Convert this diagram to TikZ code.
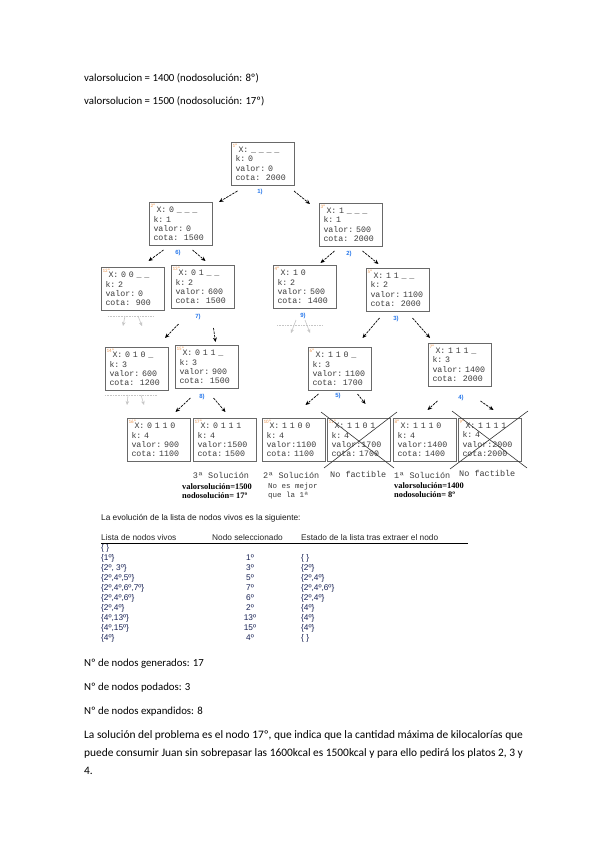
\documentclass[tikz,border=0pt]{standalone}
\usepackage{fontspec}
\setmainfont{Carlito}
\newfontfamily\mono{Liberation Mono}
\newfontfamily\tabla{Liberation Sans}
\newfontfamily\serifa{Liberation Serif}
\usepackage{xcolor}
\definecolor{azulPaso}{RGB}{40,120,235}
\definecolor{naranjaNum}{RGB}{235,150,80}
\definecolor{grisBorde}{RGB}{105,105,105}
\definecolor{grisTexto}{RGB}{60,60,60}
\definecolor{azulTabla}{RGB}{25,35,85}
\usetikzlibrary{arrows.meta}

\begin{document}
\begin{tikzpicture}[x=1pt, y=-1pt,
  estado/.style={rectangle, draw=grisBorde, line width=1pt, fill=white, anchor=north west,
                 minimum width=63pt, minimum height=43pt, inner xsep=4pt, inner ysep=1pt,
                 text width=55pt, align=left, text=grisTexto,
                 font=\mono\fontsize{8.3}{9.4}\selectfont},
  num/.style={anchor=north west, inner sep=0pt, text=naranjaNum, font=\fontsize{5}{5}\selectfont},
  paso/.style={inner sep=0pt, text=azulPaso, font=\tabla\bfseries\fontsize{6}{7}\selectfont},
  flecha/.style={-{Stealth[length=4.5pt,width=4pt]}, dash pattern=on 2.5pt off 1pt, line width=0.7pt},
  poda/.style={gray!45, densely dotted, line width=0.6pt},
  podaf/.style={gray!45, line width=0.6pt, -{Stealth[length=4pt,width=3.5pt]}},
  cruz/.style={line width=0.6pt, black!80},
  sol/.style={anchor=base west, inner sep=0pt, text=grisTexto, font=\mono\fontsize{8.5}{9}\selectfont},
  valsol/.style={anchor=base west, inner sep=0pt, font=\serifa\bfseries\fontsize{8.4}{9}\selectfont},
  linea/.style={anchor=base west, inner sep=0pt, font=\fontsize{10.8}{13}\selectfont},
  parrafo/.style={anchor=base west, inner sep=0pt, font=\fontsize{11.4}{13}\selectfont},
  celda/.style={anchor=base west, inner sep=0pt, text=azulTabla, font=\tabla\fontsize{8.3}{9}\selectfont}
]
\useasboundingbox[fill=white] (0,0) rectangle (599,848);

% texto de arriba
\node[linea] (t1) at (84,82) {valorsolucion = 1400 (nodosolución: 8º)};
\node[linea] (t2) at (84,105) {valorsolucion = 1500 (nodosolución: 17º)};

% arbol de estados
\node[estado] (n1) at (231,142) {\hspace*{3pt}X:~\_~\_~\_~\_\\k:~0\\valor:~0\\cota:~~2000};
\node[estado] (n2) at (149,202) {\hspace*{3pt}X:~0~\_~\_~\_\\k:~1\\valor:~0\\cota:~~1500};
\node[estado] (n3) at (319,203) {\hspace*{3pt}X:~1~\_~\_~\_\\k:~1\\valor:~500\\cota:~~2000};
\node[estado] (n12) at (101,267) {\hspace*{3pt}X:~0~0~\_~\_\\k:~2\\valor:~0\\cota:~~900};
\node[estado] (n13) at (171,265) {\hspace*{3pt}X:~0~1~\_~\_\\k:~2\\valor:~600\\cota:~~1500};
\node[estado] (n4) at (273,265) {\hspace*{3pt}X:~1~0\\k:~2\\valor:~500\\cota:~~1400};
\node[estado] (n5) at (366,268) {\hspace*{3pt}X:~1~1~\_~\_\\k:~2\\valor:~1100\\cota:~~2000};
\node[estado] (n14) at (105,347) {\hspace*{3pt}X:~0~1~0~\_\\k:~3\\valor:~600\\cota:~~1200};
\node[estado] (n15) at (175,345) {\hspace*{3pt}X:~0~1~1~\_\\k:~3\\valor:~900\\cota:~~1500};
\node[estado] (n6) at (308,347) {\hspace*{3pt}X:~1~1~0~\_\\k:~3\\valor:~1100\\cota:~~1700};
\node[estado] (n7) at (428,343) {\hspace*{3pt}X:~1~1~1~\_\\k:~3\\valor:~1400\\cota:~~2000};
\node[estado] (n16) at (127,418) {\hspace*{3pt}X:~0~1~1~0\\k:~4\\valor:~900\\cota:~1100};
\node[estado] (n17) at (193,418) {\hspace*{3pt}X:~0~1~1~1\\k:~4\\valor:1500\\cota:~1500};
\node[estado] (n10) at (262,418) {\hspace*{3pt}X:~1~1~0~0\\k:~4\\valor:1100\\cota:~1100};
\node[estado] (n11) at (327,418) {\hspace*{3pt}X:~1~1~0~1\\k:~4\\valor:1700\\cota:~1700};
\node[estado] (n8) at (393,418) {\hspace*{3pt}X:~1~1~1~0\\k:~4\\valor:1400\\cota:~1400};
\node[estado] (n9) at (458,418) {\hspace*{3pt}X:~1~1~1~1\\k:~4\\valor:2000\\cota:2000};

% numero de orden de cada nodo
\foreach \n in {1,...,17}
  \node[num] (o\n) at ([xshift=1.5pt,yshift=-1.5pt]n\n.north west) {\n º};

% orden de expansion
\node[paso] (p1) at (260,192) {1)};
\node[paso] (p2) at (349,254) {2)};
\node[paso] (p3) at (396,319) {3)};
\node[paso] (p4) at (461,398) {4)};
\node[paso] (p5) at (338,396) {5)};
\node[paso] (p6) at (178,253) {6)};
\node[paso] (p7) at (198,317) {7)};
\node[paso] (p8) at (202,397) {8)};
\node[paso] (p9) at (303,316) {9)};

% ramas
\draw[flecha] ([xshift=-25.5pt,yshift=-5pt]n1.south) -- ([xshift=6pt]n2.north east);
\draw[flecha] ([xshift=-1pt,yshift=-5pt]n1.south east) -- ([xshift=-9pt,yshift=-1pt]n3.north west);
\draw[flecha] ([xshift=-17.5pt,yshift=-4pt]n2.south) -- ([xshift=15.5pt,yshift=6pt]n12.north);
\draw[flecha] ([xshift=11.5pt,yshift=-4pt]n2.south) -- ([xshift=2.5pt,yshift=4pt]n13.north);
\draw[flecha] ([xshift=-16.5pt,yshift=-4pt]n3.south) -- ([xshift=15.5pt,yshift=2pt]n4.north);
\draw[flecha] ([xshift=11.5pt,yshift=-4pt]n3.south) -- ([xshift=-19.5pt,yshift=4pt]n5.north);
\draw[flecha] ([xshift=-24.5pt,yshift=-15pt]n13.south) -- ([xshift=-4pt,yshift=9pt]n14.north east);
\draw[flecha] ([xshift=10.5pt,yshift=-19pt]n13.south) -- ([xshift=8.5pt,yshift=3pt]n15.north);
\draw[flecha] ([xshift=-18.5pt,yshift=-6pt]n5.south) -- ([xshift=22.5pt,yshift=9pt]n6.north);
\draw[flecha] ([xshift=14.5pt,yshift=-6pt]n5.south) -- ([xshift=2pt,yshift=5pt]n7.north west);
\draw[flecha] ([xshift=-16.5pt,yshift=-9pt]n15.south) -- ([xshift=16.5pt,yshift=6pt]n16.north);
\draw[flecha] ([xshift=6.5pt,yshift=-9pt]n15.south) -- ([xshift=0.5pt,yshift=6pt]n17.north);
\draw[flecha] ([xshift=-21.5pt,yshift=-3pt]n6.south) -- ([xshift=11.5pt,yshift=13pt]n10.north);
\draw[flecha] ([xshift=17.5pt,yshift=-3pt]n6.south) -- ([xshift=6.5pt,yshift=14pt]n11.north);
\draw[flecha] ([xshift=-22.5pt,yshift=-14pt]n7.south) -- ([xshift=2.5pt,yshift=8pt]n8.north);
\draw[flecha] ([xshift=20.5pt,yshift=-14pt]n7.south) -- ([xshift=3.5pt,yshift=8pt]n9.north);

% nodos podados
\draw[poda] (108,316) -- (153,316);
\draw[podaf] (125,316) -- (123,326);
\draw[podaf] (138,316) -- (142,326);
\draw[poda] (277,325) -- (323,325);
\draw[podaf] (296,320) -- (291,333);
\draw[podaf] (305,320) -- (310,333);
\draw[poda] (105,395) -- (157,395);
\draw[podaf] (128,395) -- (127,405);
\draw[podaf] (141,395) -- (144,405);

% no factibles
\draw[cruz] ([xshift=-6pt,yshift=6pt]n11.north west) -- ([xshift=3pt,yshift=-6pt]n11.south east);
\draw[cruz] ([xshift=6pt,yshift=6pt]n11.north east) -- ([xshift=-3pt,yshift=-6pt]n11.south west);
\draw[cruz] ([xshift=-6pt,yshift=7pt]n9.north west) -- ([xshift=5pt,yshift=-6pt]n9.south east);
\draw[cruz] ([xshift=6pt,yshift=7pt]n9.north east) -- ([xshift=-8pt,yshift=-7pt]n9.south west);

% etiquetas de las hojas
\node[sol, anchor=base] (s3) at (221,478) {3ª Solución};
\node[valsol] (v3a) at (182,489) {valorsolución=1500};
\node[valsol] (v3b) at (182,498) {nodosolución= 17º};
\node[sol] (s2) at (263,478) {2ª Solución};
\node[sol, font=\mono\fontsize{7.5}{8}\selectfont] (m1) at (268,488) {No es mejor};
\node[sol, font=\mono\fontsize{7.5}{8}\selectfont] (m2) at (268,497) {que la 1ª};
\node[sol] (f1) at (330,477) {No factible};
\node[sol] (s1) at (394,478) {1ª Solución};
\node[valsol] (v1a) at (394,488) {valorsolución=1400};
\node[valsol] (v1b) at (394,497) {nodosolución= 8º};
\node[sol] (f2) at (459,476) {No factible};

% lista de nodos vivos
\node[celda, text=black!90] (tt) at (101,520) {La evolución de la lista de nodos vivos es la siguiente:};
\node[celda, text=black!85] (h1) at (101,540) {Lista de nodos vivos};
\node[celda, text=black!85] (h2) at (212,540) {Nodo seleccionado};
\node[celda, text=black!85] (h3) at (301,540) {Estado de la lista tras extraer el nodo};
\draw[line width=0.9pt] (h1.base west |- 0,543) -- (468,543);
\foreach \viva/\sel/\resto [count=\i] in {
  {\{ \}}/{}/{},
  {\{1º\}}/{1º}/{\{ \}},
  {\{2º, 3º\}}/{3º}/{\{2º\}},
  {\{2º,4º,5º\}}/{5º}/{\{2º,4º\}},
  {\{2º,4º,6º,7º\}}/{7º}/{\{2º,4º,6º\}},
  {\{2º,4º,6º\}}/{6º}/{\{2º,4º\}},
  {\{2º,4º\}}/{2º}/{\{4º\}},
  {\{4º,13º\}}/{13º}/{\{4º\}},
  {\{4º,15º\}}/{15º}/{\{4º\}},
  {\{4º\}}/{4º}/{\{ \}}}{
  \node[celda] (v\i) at (101,{540+10*\i}) {\viva};
  \node[celda, anchor=base] (s\i) at (250,{540+10*\i}) {\sel};
  \node[celda] (e\i) at (301,{540+10*\i}) {\resto};
}

% resumen
\node[linea] (r1) at (84,666) {Nº de nodos generados: 17};
\node[linea] (r2) at (84,690) {Nº de nodos podados: 3};
\node[linea] (r3) at (84,714) {Nº de nodos expandidos: 8};
\node[parrafo] (r4) at (84,738) {La solución del problema es el nodo 17º, que indica que la cantidad máxima de kilocalorías que};
\node[parrafo] (r5) at (84,756) {puede consumir Juan sin sobrepasar las 1600kcal es 1500kcal y para ello pedirá los platos 2, 3 y};
\node[parrafo] (r6) at (84,774) {4.};
\end{tikzpicture}
\end{document}
